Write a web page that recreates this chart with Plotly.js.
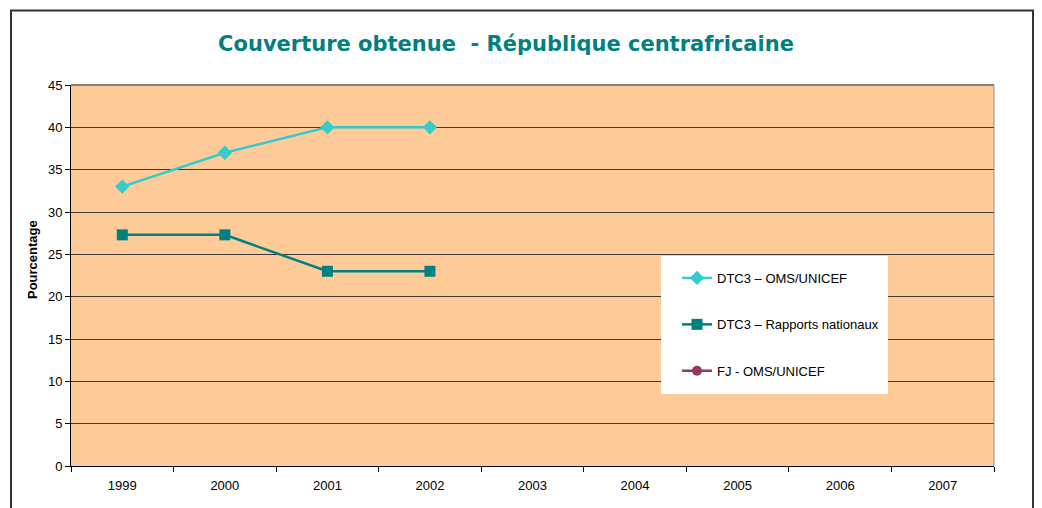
<!DOCTYPE html>
<html>
<head>
<meta charset="utf-8">
<script src="https://cdn.plot.ly/plotly-3.0.1.min.js"></script>
<style>html,body{margin:0;padding:0;background:#fff;}#chart{width:1042px;height:508px;}</style>
</head>
<body>
<div id="chart"></div>
<script>
const years = ['1999','2000','2001','2002','2003','2004','2005','2006','2007'];
const dtc3Oms = [33, 37, 40, 40, null, null, null, null, null];
const dtc3Rapports = [27.3, 27.3, 23, 23, null, null, null, null, null];
const fjOms = [null, null, null, null, null, null, null, null, null];
const seriesNames = ['DTC3 – OMS/UNICEF', 'DTC3 – Rapports nationaux', 'FJ - OMS/UNICEF'];
const yTicks = [0, 5, 10, 15, 20, 25, 30, 35, 40, 45];

const W = 1042, H = 508;
const L = 71, R = 994, T = 85, B = 466;
const pw = R - L, ph = B - T;
const px = v => (v - L) / pw;
const py = v => (B - v) / ph;

const traces = [
  {x: years, y: dtc3Oms, name: seriesNames[0], type: 'scatter', mode: 'lines+markers',
   line: {color: '#33CCCC', width: 2.5}, marker: {symbol: 'diamond', size: 11, color: '#33CCCC'},
   legendgroup: 'a'},
  {x: years, y: dtc3Rapports, name: seriesNames[1], type: 'scatter', mode: 'lines+markers',
   line: {color: '#008080', width: 2.5}, marker: {symbol: 'square', size: 11, color: '#008080'},
   legendgroup: 'b'},
  {x: years, y: fjOms, name: seriesNames[2], type: 'scatter', mode: 'lines+markers',
   line: {color: '#993366', width: 2.5}, marker: {symbol: 'circle', size: 10, color: '#993366'},
   legendgroup: 'c'}
];

const layout = {
  width: W, height: H,
  margin: {l: L, r: W - R, t: T, b: H - B, pad: 0},
  paper_bgcolor: '#ffffff',
  plot_bgcolor: '#FFCC99',
  font: {family: '"Liberation Sans", Arial, sans-serif', size: 13, color: '#000'},
  title: {text: 'Couverture obtenue  - République centrafricaine',
          font: {family: '"DejaVu Sans", Verdana, sans-serif', size: 21, color: '#008080', weight: 'bold'},
          x: px(506), xanchor: 'center', y: 1 - 44 / H, yanchor: 'middle', xref: 'paper', yref: 'container'},
  xaxis: {type: 'category', tickson: 'boundaries', ticks: 'outside', ticklen: 5, tickcolor: '#000',
          showline: true, linecolor: '#000', linewidth: 1, showgrid: false, zeroline: false,
          tickfont: {size: 13}, ticklabelstandoff: 7, range: [-0.5, 8.5], fixedrange: true},
  yaxis: {range: [0, 45], tickvals: yTicks, ticks: 'outside', ticklen: 5, tickcolor: '#000',
          showline: true, linecolor: '#000', linewidth: 1, showgrid: true, gridcolor: '#3f3a36',
          gridwidth: 1, zeroline: false, tickfont: {size: 13}},
  annotations: [
    {text: '<b>Pourcentage</b>', xref: 'paper', yref: 'paper', x: px(32), y: py(260),
     xanchor: 'center', yanchor: 'middle', textangle: -90, showarrow: false, font: {size: 13}}
  ],
  showlegend: true,
  legend: {x: px(677), y: py(263), xanchor: 'left', yanchor: 'top', bgcolor: 'rgba(0,0,0,0)',
           borderwidth: 0, font: {size: 13}, tracegroupgap: 26.5, itemwidth: 30},
  shapes: [
    {type: 'rect', xref: 'paper', yref: 'paper', x0: px(661), x1: px(888), y0: py(394), y1: py(256),
     fillcolor: '#ffffff', line: {width: 0}, layer: 'above'},
    {type: 'line', xref: 'paper', yref: 'paper', x0: 0, x1: 1, y0: 1, y1: 1, line: {color: '#808080', width: 2}},
    {type: 'line', xref: 'paper', yref: 'paper', x0: 1, x1: 1, y0: 0, y1: 1, line: {color: '#909090', width: 1}},
    {type: 'rect', xref: 'paper', yref: 'paper', x0: px(11), x1: px(1033), y0: py(530), y1: py(10.5),
     line: {color: '#333', width: 2}, fillcolor: 'rgba(0,0,0,0)'}
  ]
};

Plotly.newPlot('chart', traces, layout, {staticPlot: true, displayModeBar: false});
</script>
</body>
</html>
